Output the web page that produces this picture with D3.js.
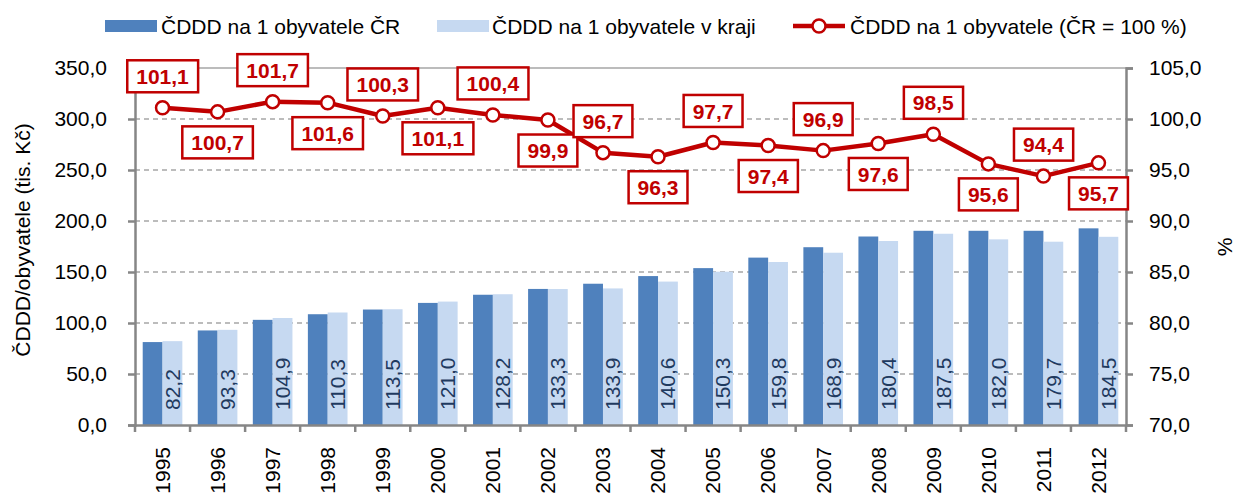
<!DOCTYPE html>
<html><head><meta charset="utf-8">
<script src="https://cdn.jsdelivr.net/npm/d3@7"></script>
<style>body{margin:0;background:#fff}svg{font-family:"Liberation Sans",Arial,sans-serif}</style>
</head><body><svg id="c" width="1239" height="496"></svg>
<script>
const years = ["1995","1996","1997","1998","1999","2000","2001","2002","2003","2004","2005","2006","2007","2008","2009","2010","2011","2012"];
const valuesCR = [81.3,92.7,103.1,108.6,113.2,119.7,127.7,133.4,138.5,146.0,153.8,164.1,174.3,184.8,190.4,190.4,190.4,192.8];
const valuesKraj = [82.2,93.3,104.9,110.3,113.5,121.0,128.2,133.3,133.9,140.6,150.3,159.8,168.9,180.4,187.5,182.0,179.7,184.5];
const percent = [101.1,100.7,101.7,101.6,100.3,101.1,100.4,99.9,96.7,96.3,97.7,97.4,96.9,97.6,98.5,95.6,94.4,95.7];
const leftTicks = [0,50,100,150,200,250,300,350];
const rightTicks = [70,75,80,85,90,95,100,105];
const seriesNames = ["ČDDD na 1 obyvatele ČR","ČDDD na 1 obyvatele v kraji","ČDDD na 1 obyvatele (ČR = 100 %)"];

const fmt = v => d3.format(".1f")(v).replace(".", ",");
const svg = d3.select("#c");
const L = 135, R = 1126, T = 68, B = 425;
const FS = 21;
const cDark = "#4f81bd", cLight = "#c6d9f1", cRed = "#c00000", cAxis = "#868686";

const x = d3.scaleBand().domain(years).range([L, R]);
const step = x.bandwidth();
const xs = d3.scaleBand().domain(["cr","kraj"]).range([step*0.14, step*0.86]);
const yL = d3.scaleLinear().domain([0,350]).range([B, T]);
const yR = d3.scaleLinear().domain([70,105]).range([B, T]);

// gridlines
svg.append("g").selectAll("line").data(leftTicks.filter(d=>d>0)).join("line")
  .attr("x1", L).attr("x2", R).attr("y1", d=>yL(d)).attr("y2", d=>yL(d))
  .attr("stroke", "#a6a6a6").attr("stroke-width", 1.5)
  .attr("stroke-dasharray", d => d===350 ? null : "5,4");

// bars
const g = svg.append("g").selectAll("g").data(years).join("g")
  .attr("transform", d => `translate(${x(d)},0)`);
g.append("rect").attr("x", xs("cr")).attr("width", xs.bandwidth())
  .attr("y", (d,i)=>yL(valuesCR[i])).attr("height", (d,i)=>B - yL(valuesCR[i])).attr("fill", cDark);
g.append("rect").attr("x", xs("kraj")).attr("width", xs.bandwidth())
  .attr("y", (d,i)=>yL(valuesKraj[i])).attr("height", (d,i)=>B - yL(valuesKraj[i])).attr("fill", cLight);
g.append("text")
  .attr("transform", `translate(${xs("kraj")+xs.bandwidth()/2+7.5},${B-15}) rotate(-90)`)
  .attr("font-size", FS).attr("fill", "#1f3a5f")
  .text((d,i)=>fmt(valuesKraj[i]));

// axes
const axL = svg.append("g").attr("transform", `translate(${L},0)`)
  .call(d3.axisLeft(yL).tickValues(leftTicks).tickFormat(fmt).tickSize(7).tickPadding(21));
const axR = svg.append("g").attr("transform", `translate(${R},0)`)
  .call(d3.axisRight(yR).tickValues(rightTicks).tickFormat(fmt).tickSize(7).tickPadding(16));
const axB = svg.append("g").attr("transform", `translate(0,${B})`)
  .call(d3.axisBottom(x).tickSize(0).tickPadding(0));
[axL, axR].forEach(a => {
  a.select(".domain").attr("stroke", cAxis).attr("stroke-width", 2.5);
  a.selectAll(".tick line").attr("stroke", cAxis).attr("stroke-width", 2.5);
  a.selectAll("text").attr("font-size", FS).attr("fill", "#000").attr("font-family", "Liberation Sans, Arial, sans-serif");
});
axB.select(".domain").attr("stroke", cAxis).attr("stroke-width", 2.5);
axB.selectAll(".tick text").attr("font-size", FS).attr("fill", "#000")
  .attr("font-family", "Liberation Sans, Arial, sans-serif")
  .attr("text-anchor", "end").attr("dy", "0.35em")
  .attr("transform", "translate(0,22) rotate(-90)");
// category boundary ticks
svg.append("g").selectAll("line").data(years.concat(["end"])).join("line")
  .attr("x1", (d,i)=> L + i*step).attr("x2", (d,i)=> L + i*step)
  .attr("y1", B).attr("y2", B+7).attr("stroke", cAxis).attr("stroke-width", 2.5);

// line series
const px = (d,i) => x(years[i]) + step/2;
const line = d3.line().x((d,i)=>px(d,i)).y(d=>yR(d));
svg.append("path").datum(percent).attr("d", line).attr("fill","none")
  .attr("stroke", cRed).attr("stroke-width", 4.5).attr("stroke-linejoin","round");
svg.append("g").selectAll("circle").data(percent).join("circle")
  .attr("cx", px).attr("cy", d=>yR(d)).attr("r", 6.5)
  .attr("fill", "#fff").attr("stroke", cRed).attr("stroke-width", 2.5);

// data label boxes
const lbl = svg.append("g").selectAll("g").data(percent).join("g")
  .attr("transform", (d,i)=>`translate(${px(d,i)},${yR(d) + (i%2===0 ? -31.5 : 30.5)})`);
lbl.append("text").attr("text-anchor","middle").attr("dy","0.36em")
  .attr("font-size", FS).attr("font-weight","bold").attr("fill", cRed).text(d=>fmt(d));
lbl.each(function(){
  const t = d3.select(this).select("text").node().getBBox();
  d3.select(this).insert("rect","text")
    .attr("x", t.x-9).attr("y", -16).attr("width", t.width+18).attr("height", 32)
    .attr("fill","#fff").attr("stroke", cRed).attr("stroke-width", 2.5);
});

// axis titles
svg.append("text").attr("transform", "translate(30,240) rotate(-90)")
  .attr("text-anchor","middle").attr("font-size", FS).text("ČDDD/obyvatele (tis. Kč)");
svg.append("text").attr("transform", "translate(1232,247) rotate(-90)")
  .attr("text-anchor","middle").attr("font-size", FS).text("%");

// legend
const lg = svg.append("g");
lg.append("rect").attr("x",105).attr("y",20).attr("width",52).attr("height",12).attr("fill",cDark);
lg.append("text").attr("x",161).attr("y",27).attr("dy","0.35em").attr("font-size",FS).text(seriesNames[0]);
lg.append("rect").attr("x",437).attr("y",20).attr("width",52).attr("height",12).attr("fill",cLight);
lg.append("text").attr("x",492).attr("y",27).attr("dy","0.35em").attr("font-size",FS).text(seriesNames[1]);
lg.append("line").attr("x1",793).attr("x2",845).attr("y1",26).attr("y2",26).attr("stroke",cRed).attr("stroke-width",4.5);
lg.append("circle").attr("cx",819).attr("cy",26).attr("r",6.5).attr("fill","#fff").attr("stroke",cRed).attr("stroke-width",2.5);
lg.append("text").attr("x",850).attr("y",27).attr("dy","0.35em").attr("font-size",FS).text(seriesNames[2]);
</script></body></html>
